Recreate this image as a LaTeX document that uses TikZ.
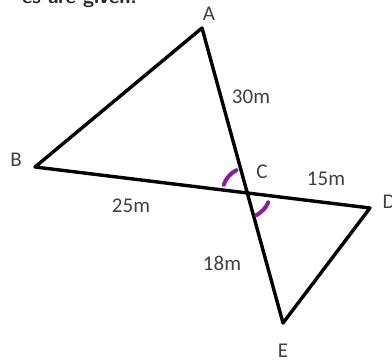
\documentclass[tikz,border=0pt]{standalone}
\usepackage{fontspec}
\setmainfont{Carlito}
\usetikzlibrary{calc}
\definecolor{labelgray}{HTML}{404040}
\definecolor{markpurple}{HTML}{8E1A9C}
\tikzset{
  side/.style={line width=3.4pt, line join=round},
  lbl/.style={text=labelgray, font=\fontsize{21}{21}\selectfont, inner sep=0pt},
  anglemark/.style={markpurple, line width=4pt, line cap=round}
}
\begin{document}
\begin{tikzpicture}[x=1pt,y=-1pt]
    \useasboundingbox (0,0) rectangle (392,363);
    % Define the points for easier reference
    \coordinate (A) at (202,28);
    \coordinate (B) at (35,167);
    \coordinate (D) at (370,208);
    \coordinate (E) at (283,323);
    \coordinate (C) at (intersection of A--E and B--D);

    % Draw the two triangles
    \draw[side] (C) -- (B) -- (A) -- (C);
    \draw[side] (C) -- (D) -- (E) -- (C);

    % Equal angles at C
    \draw[anglemark] ($(C)+(161:25pt)$) arc[start angle=161, end angle=117, radius=26pt];
    \draw[anglemark] ($(C)+(-24:23pt)$) arc[start angle=-24, end angle=-62, radius=27pt];

    % Vertex and side labels
    \node[lbl] (labA) at (209,14) {A};
    \node[lbl] (labB) at (16,160) {B};
    \node[lbl] (labC) at (262,172) {C};
    \node[lbl] (labD) at (389,202) {D};
    \node[lbl] (labE) at (283,351) {E};
    \node[lbl] (lab30) at (251,97) {30m};
    \node[lbl] (lab15) at (326,179) {15m};
    \node[lbl] (lab25) at (131,206) {25m};
    \node[lbl] (lab18) at (222,263) {18m};

    % text above the picture
    \node[anchor=base east, font=\sffamily\bfseries\fontsize{20}{20}\selectfont, text=black!85, inner sep=0pt] (caption) at (137,4) {es are given.};
\end{tikzpicture}
\end{document}
